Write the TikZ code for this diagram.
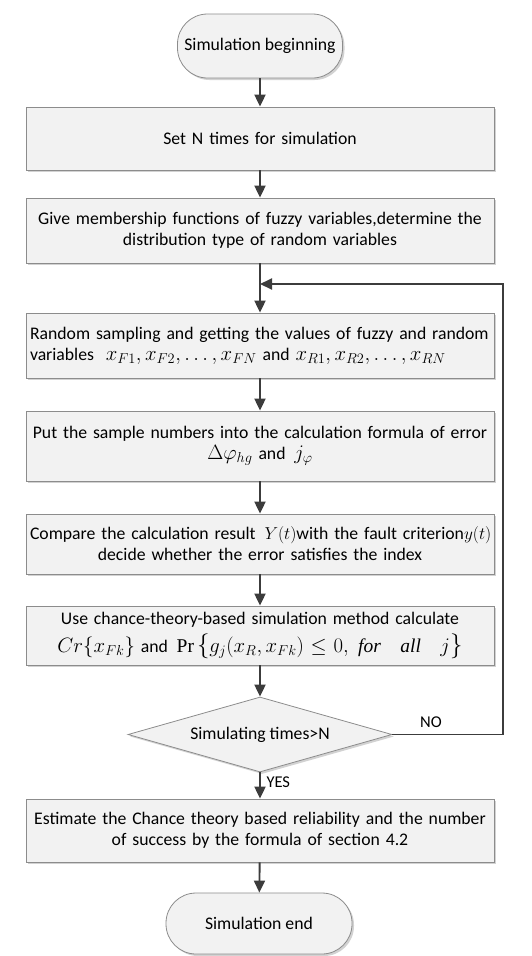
\documentclass[tikz,border=0pt]{standalone}
\usepackage{amsmath}
\usepackage{fontspec}
\setmainfont{Carlito}
\setmathrm{Liberation Serif}
\usetikzlibrary{shapes.geometric,arrows.meta,shadows}
\definecolor{boxfill}{HTML}{F2F2F2}
\definecolor{boxline}{HTML}{8C8C8C}
\definecolor{arrcol}{HTML}{3C3C3C}
\newcommand{\bigmath}[1]{{\fontsize{19.5}{21}\selectfont$#1$}}
\newcommand{\smallmath}[1]{{\fontsize{16}{21}\selectfont$#1$}}
\newcommand{\tallbrace}[1]{{\fontsize{23}{21}\selectfont$#1$}}
\begin{document}
\begin{tikzpicture}[x=1pt,y=-1pt,
  base/.style={draw=boxline,line width=0.8pt,fill=boxfill,
    drop shadow={shadow xshift=2pt,shadow yshift=-2pt,fill=black!25,opacity=0.7},
    font=\fontsize{17.7}{21}\selectfont,inner sep=3pt},
  procbox/.style={base,rectangle,minimum width=468pt,text width=460pt,align=center},
  termbox/.style={base,rectangle,rounded corners=30pt},
  decbox/.style={base,diamond,aspect=3.5,inner sep=0pt,minimum width=264pt,minimum height=75pt},
  arr/.style={draw=arrcol,line width=1.9pt,-{Triangle[length=12pt,width=11pt]}},
  lbl/.style={font=\fontsize{16.5}{19}\selectfont,text=black}]
\useasboundingbox (0,0) rectangle (531,956);
\node[termbox,minimum width=165pt,minimum height=64pt] (start) at (260,46) {Simulation beginning};
\node[procbox,minimum height=63pt] (b1) at (260,138.5) {Set N times for simulation};
\node[procbox,minimum height=65pt] (b2) at (260,230.5) {Give membership functions of fuzzy variables,determine the\\ distribution type of random variables};
\node[procbox,minimum height=65pt,align=left] (b3) at (260,345.5) {Random sampling and getting the values of fuzzy and random\\ variables\,\, \bigmath{x_{F1},x_{F2},\dots,x_{FN}} and \bigmath{x_{R1},x_{R2},\dots,x_{RN}}};
\node[procbox,minimum height=70pt] (b4) at (260,446) {Put the sample numbers into the calculation formula of error\\ \bigmath{\Delta\varphi_{hg}} and\, \bigmath{j_{\varphi}}};
\node[procbox,minimum height=60pt] (b5) at (260,544) {\mbox{Compare the calculation result\, \smallmath{Y(t)}with the fault criterion\smallmath{y(t)}}\\ decide whether the error satisfies the index};
\node[procbox,minimum height=59pt,inner sep=1pt] (b6) at (260,635.5) {Use chance-theory-based simulation method calculate\\[5pt] \bigmath{Cr\{x_{Fk}\}} and\, \bigmath{\mathrm{Pr}}\,\tallbrace{\{}\bigmath{g_j(x_R,x_{Fk})\mathrel{\!\le\!} 0,\ \mathit{for}\quad \mathit{all}\quad j}\tallbrace{\}}};
\node[decbox] (dec) at (260,734.5) {Simulating times>N};
\node[procbox,minimum height=63pt] (b7) at (260,830.5) {Estimate the Chance theory based reliability and the number\\ of success by the formula of section 4.2};
\node[termbox,minimum width=186pt,minimum height=61pt] (stop) at (259,923.5) {Simulation end};
\coordinate (join) at (260,284);
\coordinate (loopc) at (503,284);
\draw[arr] (start) -- (b1);
\draw[arr] (b1) -- (b2);
\draw[arr] (b2) -- (b3);
\draw[arr] (b3) -- (b4);
\draw[arr] (b4) -- (b5);
\draw[arr] (b5) -- (b6);
\draw[arr] (b6) -- (dec);
\draw[arr] (dec) -- (b7);
\draw[arr] (b7) -- (stop);
\draw[arr] (dec.east) -| (loopc) -- (join);
\node[lbl,anchor=west] (yes) at (263,782) {YES};
\node[lbl] (no) at (431,722) {NO};
\end{tikzpicture}
\end{document}
